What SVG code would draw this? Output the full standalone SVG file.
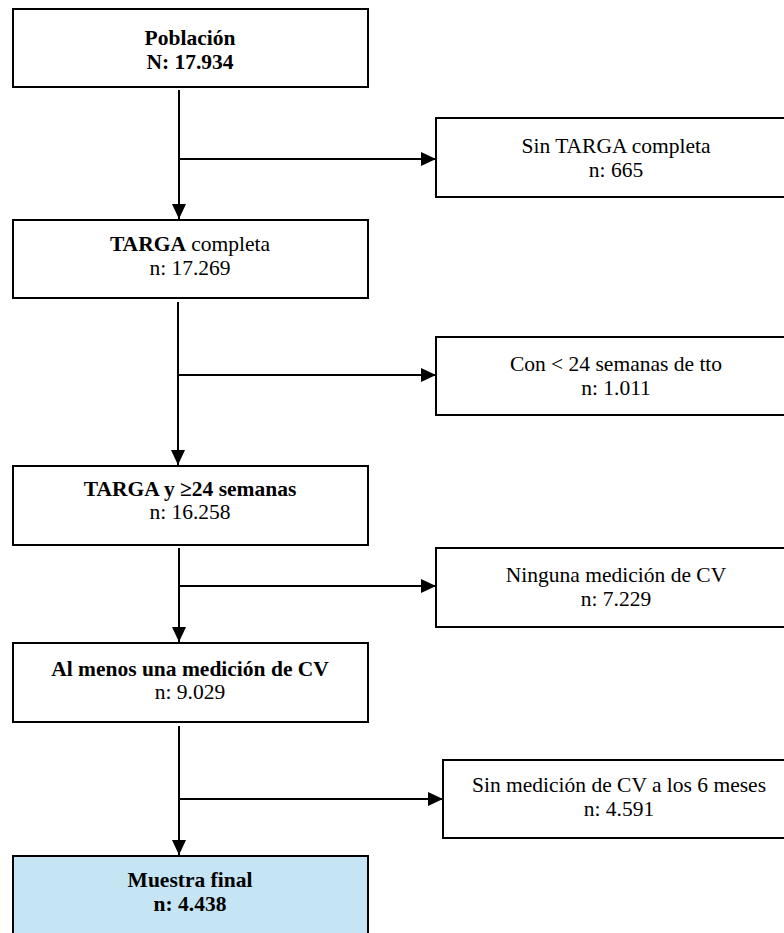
<svg xmlns="http://www.w3.org/2000/svg" width="784" height="933" viewBox="0 0 784 933">
<style>
.box{fill:#ffffff;stroke:#000;stroke-width:2}
.final{fill:#c5e5f5;stroke:#000;stroke-width:2}
text{font-family:'Liberation Serif','Times New Roman',Times,serif;font-size:21.5px;fill:#000;text-anchor:middle}
.b{font-weight:bold}
.ln{stroke:#000;stroke-width:2;fill:none}
</style>
<defs>
<marker id="ah" markerUnits="userSpaceOnUse" markerWidth="16" markerHeight="14" refX="15" refY="7" orient="auto">
<path d="M0,0 L15,7 L0,14 Z" fill="#000"/>
</marker>
</defs>
<rect width="784" height="933" fill="#ffffff"/>
<g id="connectors">
<line class="ln" x1="179" y1="90" x2="179" y2="219" marker-end="url(#ah)"/>
<line class="ln" x1="179" y1="159" x2="436" y2="159" marker-end="url(#ah)"/>
<line class="ln" x1="178" y1="302" x2="178" y2="465" marker-end="url(#ah)"/>
<line class="ln" x1="178" y1="375" x2="436" y2="375" marker-end="url(#ah)"/>
<line class="ln" x1="179" y1="548" x2="179" y2="642" marker-end="url(#ah)"/>
<line class="ln" x1="179" y1="586" x2="436" y2="586" marker-end="url(#ah)"/>
<line class="ln" x1="179" y1="726" x2="179" y2="855" marker-end="url(#ah)"/>
<line class="ln" x1="179" y1="799" x2="443" y2="799" marker-end="url(#ah)"/>
</g>
<g id="poblacion">
<rect class="box" x="13" y="9" width="355" height="78"/>
<text class="b" x="190" y="45">Población</text>
<text class="b" x="190" y="69">N: 17.934</text>
</g>
<g id="sin-targa">
<rect class="box" x="436" y="118" width="360" height="79"/>
<text x="616" y="153">Sin TARGA completa</text>
<text x="616" y="177">n: 665</text>
</g>
<g id="targa-completa">
<rect class="box" x="13" y="220" width="355" height="78"/>
<text x="190" y="251"><tspan class="b">TARGA</tspan> completa</text>
<text x="190" y="275">n: 17.269</text>
</g>
<g id="menos-24">
<rect class="box" x="436" y="337" width="360" height="78"/>
<text x="616" y="371">Con &lt; 24 semanas de tto</text>
<text x="616" y="395">n: 1.011</text>
</g>
<g id="targa-24">
<rect class="box" x="13" y="466" width="355" height="79"/>
<text class="b" x="190" y="496">TARGA y ≥24 semanas</text>
<text x="190" y="519">n: 16.258</text>
</g>
<g id="ninguna">
<rect class="box" x="436" y="548" width="360" height="79"/>
<text x="616" y="582">Ninguna medición de CV</text>
<text x="616" y="606">n: 7.229</text>
</g>
<g id="al-menos">
<rect class="box" x="13" y="643" width="355" height="79"/>
<text class="b" x="190" y="676">Al menos una medición de CV</text>
<text x="190" y="699">n: 9.029</text>
</g>
<g id="sin-medicion">
<rect class="box" x="443" y="760" width="352" height="78"/>
<text x="619" y="792">Sin medición de CV a los 6 meses</text>
<text x="619" y="816">n: 4.591</text>
</g>
<g id="muestra-final">
<rect class="final" x="13" y="856" width="355" height="80"/>
<text class="b" x="190" y="887">Muestra final</text>
<text class="b" x="190" y="911">n: 4.438</text>
</g>
</svg>
